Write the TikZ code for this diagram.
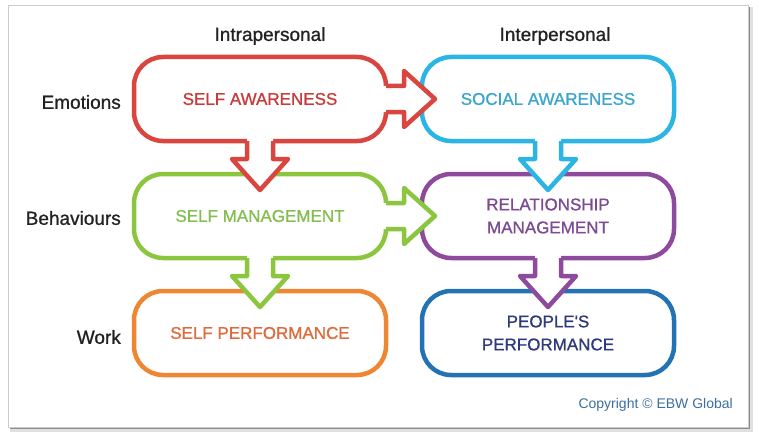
\documentclass[tikz,border=0pt]{standalone}
\usepackage{fontspec}
\setmainfont{Liberation Sans}
\newfontfamily\medfont{Liberation Sans}[FakeBold=0.9]
\usepackage{xcolor}
\usetikzlibrary{positioning}

\definecolor{cRed}{HTML}{D9453F}
\definecolor{tRed}{HTML}{C93A3A}
\definecolor{cCyan}{HTML}{2AB5E5}
\definecolor{tCyan}{HTML}{3AA6CF}
\definecolor{cGreen}{HTML}{8CC63F}
\definecolor{tGreen}{HTML}{84BE50}
\definecolor{cPurple}{HTML}{8E4B9E}
\definecolor{tPurple}{HTML}{7E4A91}
\definecolor{cOrange}{HTML}{EE8733}
\definecolor{tOrange}{HTML}{DF6A3B}
\definecolor{cBlue}{HTML}{2272B4}
\definecolor{tBlue}{HTML}{2E3A7C}
\definecolor{cCopy}{HTML}{3C6E9E}
\definecolor{labelgray}{HTML}{222222}

\tikzset{
  downarr/.pic={
    \fill[white, draw=none] (-13,-4) -- (-13,18) -- (-28,18) -- (0,49) -- (28,18) -- (13,18) -- (13,-4) -- cycle;
    \draw[pic actions] (-13,0) -- (-13,18) -- (-28,18) -- (0,49) -- (28,18) -- (13,18) -- (13,0);
  },
  rightarr/.pic={
    \fill[white, draw=none] (-4,-13) -- (18,-13) -- (18,-28) -- (49,0) -- (18,28) -- (18,13) -- (-4,13) -- cycle;
    \draw[pic actions] (0,-13) -- (18,-13) -- (18,-28) -- (49,0) -- (18,28) -- (18,13) -- (0,13);
  },
}

\begin{document}
\begin{tikzpicture}[x=1pt, y=-1pt,
    box/.style={draw=#1, line width=4.5pt, rounded corners=29pt, minimum width=252pt, minimum height=84pt,
      outer sep=0pt, align=center, font=\medfont\fontsize{17}{23}\selectfont},
    arrline/.style={line width=4.5pt, line join=round},
    rowlabel/.style={font=\medfont\fontsize{19}{23}\selectfont, text=labelgray, inner sep=0pt}]
  \useasboundingbox (0,0) rectangle (759,441);
  % card with shadow
  \fill[black!12] (10,7) rectangle (753,432);
  \fill[black!45] (10,7) rectangle (750,429);
  \filldraw[fill=white, draw=black!20, line width=0.8pt] (8,5) rectangle (748,427);

  % boxes
  \node[box=cRed, text=tRed] (sa) at (260,99) {SELF AWARENESS};
  \node[box=cCyan, text=tCyan, right=36pt of sa] (soa) {SOCIAL AWARENESS};
  \node[box=cGreen, text=tGreen, below=33pt of sa] (sm) {SELF MANAGEMENT};
  \node[box=cPurple, text=tPurple, below=33pt of soa] (rm) {RELATIONSHIP\\MANAGEMENT};
  \node[box=cOrange, text=tOrange, below=33pt of sm] (sp) {SELF PERFORMANCE};
  \node[box=cBlue, text=tBlue, below=33pt of rm] (pp) {PEOPLE'S\\PERFORMANCE};

  % labels
  \node[rowlabel] (intra) at (270,36) {Intrapersonal};
  \node[rowlabel] (inter) at (555,36) {Interpersonal};
  \node[rowlabel, left=13pt of sa, yshift=-3pt] (emo) {Emotions};
  \node[rowlabel, left=13pt of sm, yshift=-2pt] (beh) {Behaviours};
  \node[rowlabel, left=13pt of sp, yshift=-4pt] (work) {Work};

  % arrows
  \pic[arrline, draw=cPurple] at (rm.south) {downarr};
  \pic[arrline, draw=cGreen] at (sm.south) {downarr};
  \pic[arrline, draw=cGreen] at (sm.east) {rightarr};
  \pic[arrline, draw=cCyan] at (soa.south) {downarr};
  \pic[arrline, draw=cRed] at (sa.south) {downarr};
  \pic[arrline, draw=cRed] at (sa.east) {rightarr};

  \node[font=\fontsize{14}{16}\selectfont, text=cCopy, anchor=east, inner sep=0pt] (copy) at (733,405) {Copyright © EBW Global};
\end{tikzpicture}
\end{document}
